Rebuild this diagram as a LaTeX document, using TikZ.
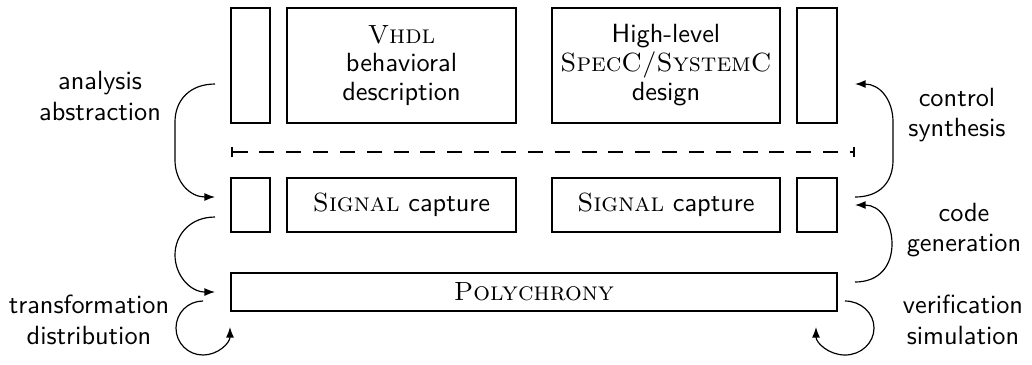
\documentclass[tikz,border=0pt]{standalone}
\usetikzlibrary{arrows.meta}
\newcommand{\pxu}{0.38pt}
\begin{document}
\begin{tikzpicture}[x=0.38pt,y=-0.38pt,
  font=\sffamily\fontsize{10}{11.6}\selectfont,
  box/.style={draw, line width=1.1pt, inner sep=0pt, align=center, font=\sffamily\fontsize{10}{11}\selectfont},
  conn/.style={line width=0.45pt, -{Latex[length=4pt,width=3pt]}},
  lbl/.style={align=center, inner sep=0pt}]
\useasboundingbox (0,0) rectangle (1032,364);
% top row
\node[box, minimum width=39*\pxu, minimum height=115*\pxu] (tl) at (250.5,65.5) {};
\node[box, minimum width=229*\pxu, minimum height=115*\pxu] (vhdl) at (401.5,65.5) {{\rmfamily\scshape Vhdl}\\behavioral\\description};
\node[box, minimum width=228*\pxu, minimum height=115*\pxu] (hl) at (666,65.5) {High-level\\{\rmfamily\scshape SpecC/SystemC}\\design};
\node[box, minimum width=40*\pxu, minimum height=115*\pxu] (tr) at (817,65.5) {};
% middle row
\node[box, minimum width=39*\pxu, minimum height=54*\pxu] (ml) at (250.5,205) {};
\node[box, minimum width=229*\pxu, minimum height=54*\pxu] (sc1) at (401.5,205) {{\rmfamily\scshape Signal} capture};
\node[box, minimum width=228*\pxu, minimum height=54*\pxu] (sc2) at (666,205) {{\rmfamily\scshape Signal} capture};
\node[box, minimum width=40*\pxu, minimum height=54*\pxu] (mr) at (817,205) {};
% bottom
\node[box, minimum width=606*\pxu, minimum height=38*\pxu] (poly) at (534,292) {{\rmfamily\scshape Polychrony}};
% dashed separator
\coordinate (dl) at (231,152);
\coordinate (dr) at (855,152);
\draw[line width=0.8pt, dash pattern=on 5.7pt off 4.5pt, {Bar[width=4pt]}-{Bar[width=4pt]}] (dl) -- (dr);
% labels
\node[lbl] (lab1) at (100,96) {analysis\\abstraction};
\node[lbl] (lab2) at (89,320) {transformation\\distribution};
\node[lbl] (lab3) at (957,115) {control\\synthesis};
\node[lbl] (lab4) at (964,230) {code\\generation};
\node[lbl] (lab5) at (963,320) {verification\\simulation};
% connector end points
\coordinate (a1) at (215,84);  \coordinate (a2) at (215,197);
\coordinate (b1) at (215,217); \coordinate (b2) at (215,292);
\coordinate (t1) at (203,301); \coordinate (t2) at (230,327);
\coordinate (c1) at (855,197); \coordinate (c2) at (855,84);
\coordinate (d1) at (855,282); \coordinate (d2) at (855,205);
\coordinate (v1) at (845,301); \coordinate (v2) at (816,327);
% left arcs
\draw[conn] (a1) .. controls (190,84) and (175,100) .. (175,122) -- (175,160) .. controls (175,182) and (190,197) .. (a2);
\draw[conn] (b1) .. controls (190,217) and (175,235) .. (175,255) .. controls (175,275) and (190,292) .. (b2);
\draw[conn] (t1) .. controls (188,301) and (176,313) .. (176,328) .. controls (176,343) and (188,355) .. (203,355) .. controls (218,355) and (230,343) .. (t2);
% right arcs
\draw[conn] (c1) .. controls (880,197) and (893,182) .. (893,160) -- (893,122) .. controls (893,100) and (880,84) .. (c2);
\draw[conn] (d1) .. controls (880,282) and (892,265) .. (892,244) .. controls (892,222) and (880,205) .. (d2);
\draw[conn] (v1) .. controls (861,301) and (874,313) .. (874,328) .. controls (874,343) and (861,355) .. (845,355) .. controls (829,355) and (816,343) .. (v2);
\end{tikzpicture}
\end{document}
